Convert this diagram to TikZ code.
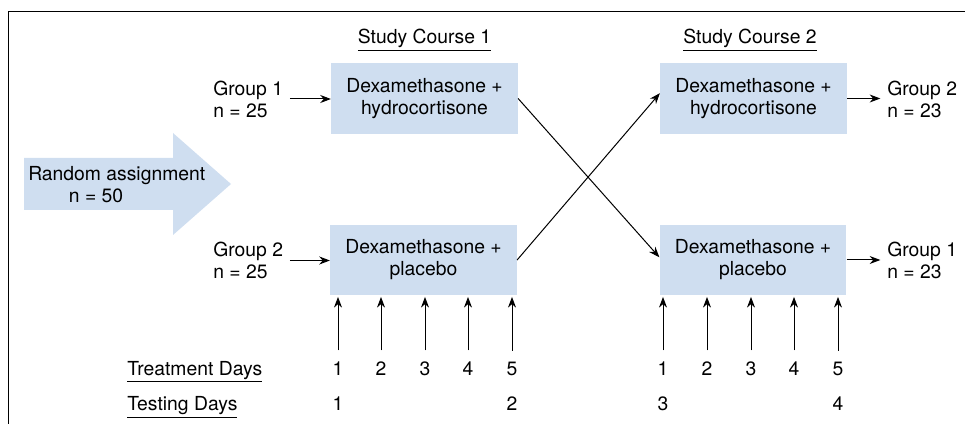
\documentclass[tikz,border=0pt]{standalone}
\usepackage{fontspec}
\setmainfont{TeX Gyre Heros}
\usetikzlibrary{arrows.meta}

\definecolor{boxblue}{RGB}{207,222,240}

\tikzset{
  drug/.style={fill=boxblue, minimum width=140pt, minimum height=53pt, inner sep=0pt, align=center},
  grp/.style={anchor=west, align=left, inner sep=0pt},
  day/.style={anchor=base, inner sep=0pt},
  arr/.style={-{Stealth[length=8pt,width=6pt]}, line width=0.75pt},
}

\begin{document}
\begin{tikzpicture}[x=0.75pt, y=-0.75pt, font=\fontsize{14.5}{16.5}\selectfont]

        \useasboundingbox (0,0) rectangle (965,424);
        \draw[line width=1.1pt] (8.5,424) -- (8.5,11.5) -- (965,11.5);

        % random assignment arrow
        \fill[boxblue] (24,158) -- (173,158) -- (173,133) -- (231,184) -- (173,235) -- (173,210) -- (24,210) -- cycle;
        \node[grp] (rand) at (28,185) {Random assignment\\\hspace*{30.5pt}n = 50};

        \node[anchor=base] (sc1) at (424.5,44) {\underline{Study Course 1}};
        \node[anchor=base] (sc2) at (750,44) {\underline{Study Course 2}};

        \node[drug] (h1) at (424.5,98.5) {Dexamethasone +\\hydrocortisone};
        \node[drug] (p1) at (423.5,260) {Dexamethasone +\\placebo};
        \node[drug] (h2) at (753.5,98.5) {Dexamethasone +\\hydrocortisone};
        \node[drug] (p2) at (753,260) {Dexamethasone +\\placebo};

        \node[grp] (g1in) at (213,99) {Group 1\\n = 25};
        \node[grp] (g2in) at (213,260.5) {Group 2\\n = 25};
        \node[grp] (g2out) at (887,99) {Group 2\\n = 23};
        \node[grp] (g1out) at (887,260.5) {Group 1\\n = 23};

        \draw[arr, shorten <=5pt] (g1in.east) -- (g1in.east -| h1.west);
        \draw[arr, shorten <=5pt] (g2in.east) -- (g2in.east -| p1.west);
        \draw[arr, shorten >=5pt] (h2.east) -- (h2.east -| g2out.west);
        \draw[arr, shorten >=5pt] (p2.east) -- (p2.east -| g1out.west);

        % crossover
        \draw[arr] (h1.east) -- ([yshift=2pt]p2.west);
        \draw[arr] (p1.east) -- ([yshift=4pt]h2.west);

        \node[anchor=base west, inner sep=0pt] (treat) at (127,375) {\underline{Treatment Days}};
        \node[anchor=base west, inner sep=0pt] (test) at (127,411) {\underline{Testing Days}};

        \node[day] (a1) at (338,375) {1};
        \node[day] (a2) at (381,375) {2};
        \node[day] (a3) at (425,375) {3};
        \node[day] (a4) at (468,375) {4};
        \node[day] (a5) at (512,375) {5};
        \node[day] (b1) at (663,375) {1};
        \node[day] (b2) at (707,375) {2};
        \node[day] (b3) at (751,375) {3};
        \node[day] (b4) at (794,375) {4};
        \node[day] (b5) at (838,375) {5};

        \draw[arr, shorten >=1pt] ([yshift=8pt]a1.north) -- (a1 |- p1.south);
        \draw[arr, shorten >=1pt] ([yshift=8pt]a2.north) -- (a2 |- p1.south);
        \draw[arr, shorten >=1pt] ([yshift=8pt]a3.north) -- (a3 |- p1.south);
        \draw[arr, shorten >=1pt] ([yshift=8pt]a4.north) -- (a4 |- p1.south);
        \draw[arr, shorten >=1pt] ([yshift=8pt]a5.north) -- (a5 |- p1.south);
        \draw[arr, shorten >=1pt] ([yshift=8pt]b1.north) -- (b1 |- p2.south);
        \draw[arr, shorten >=1pt] ([yshift=8pt]b2.north) -- (b2 |- p2.south);
        \draw[arr, shorten >=1pt] ([yshift=8pt]b3.north) -- (b3 |- p2.south);
        \draw[arr, shorten >=1pt] ([yshift=8pt]b4.north) -- (b4 |- p2.south);
        \draw[arr, shorten >=1pt] ([yshift=8pt]b5.north) -- (b5 |- p2.south);

        \node[day] (s1) at (338,411) {1};
        \node[day] (s2) at (512,411) {2};
        \node[day] (s3) at (663,411) {3};
        \node[day] (s4) at (838,411) {4};

    \end{tikzpicture}
\end{document}
